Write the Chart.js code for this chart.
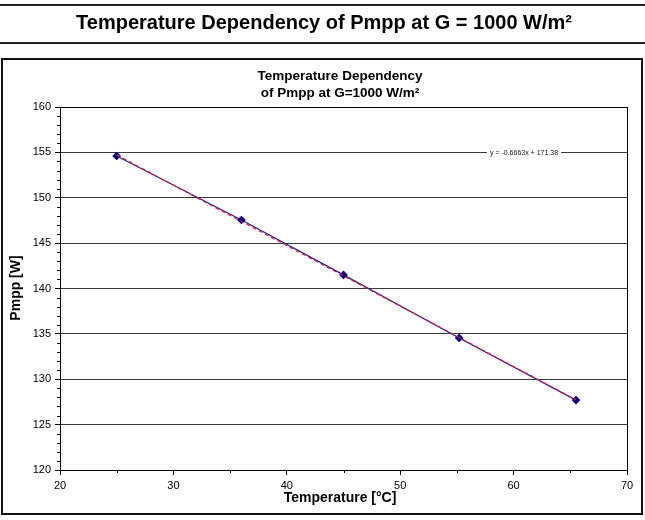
<!DOCTYPE html>
<html>
<head>
<meta charset="utf-8">
<script src="https://cdn.jsdelivr.net/npm/chart.js@4"></script>
<style>
html,body{margin:0;padding:0;background:#fff;}
#wrap{position:relative;width:645px;height:520px;}
</style>
</head>
<body>
<div id="wrap"><canvas id="c" width="645" height="520"></canvas></div>
<script>
// ---- data ----
const temperatures = [25, 36, 45, 55.2, 65.5];
const pmppValues = [154.6, 147.55, 141.5, 134.55, 127.7];
const trendX = [25, 65.5];
const trendY = [154.72, 127.74];
const equationText = "y = -0.6663x + 171.38";
const xTicks = [20, 30, 40, 50, 60, 70];
const yTicks = [120, 125, 130, 135, 140, 145, 150, 155, 160];
const headerTitle = "Temperature Dependency of Pmpp at G = 1000 W/m²";
const chartTitleLines = ["Temperature Dependency", "of Pmpp at G=1000 W/m²"];
const xTitle = "Temperature [°C]";
const yTitle = "Pmpp [W]";

const FONT = "'Liberation Sans', Arial, sans-serif";

const decor = {
  id: 'decor',
  beforeDraw(chart) {
    const ctx = chart.ctx;
    ctx.save();
    ctx.fillStyle = '#fff';
    ctx.fillRect(0, 0, chart.width, chart.height);
    // header lines
    ctx.strokeStyle = '#222';
    ctx.lineWidth = 2;
    ctx.beginPath();
    ctx.moveTo(0, 5); ctx.lineTo(645, 5);
    ctx.moveTo(0, 43); ctx.lineTo(645, 43);
    ctx.stroke();
    // header title
    ctx.fillStyle = '#000';
    ctx.font = "bold 20px " + FONT;
    ctx.textAlign = 'center';
    ctx.textBaseline = 'middle';
    ctx.fillText(headerTitle, 324, 23);
    // outer box
    ctx.lineWidth = 2;
    ctx.strokeStyle = '#111';
    ctx.strokeRect(2, 59, 640, 455);
    // chart title
    ctx.font = "bold 13.5px " + FONT;
    ctx.fillText(chartTitleLines[0], 340, 76);
    ctx.fillText(chartTitleLines[1], 340, 93);
    // axis titles
    ctx.font = "bold 14px " + FONT;
    ctx.fillText(xTitle, 340, 498);
    ctx.save();
    ctx.translate(16, 288);
    ctx.rotate(-Math.PI / 2);
    ctx.fillText(yTitle, 0, 0);
    ctx.restore();
    ctx.restore();
  },
  afterDatasetsDraw(chart) {
    const ctx = chart.ctx;
    const a = chart.chartArea;
    const xs = chart.scales.x, ys = chart.scales.y;
    ctx.save();
    // plot border
    ctx.strokeStyle = '#000';
    ctx.lineWidth = 1;
    ctx.strokeRect(Math.round(a.left) + 0.5, Math.round(a.top) + 0.5, Math.round(a.right - a.left), Math.round(a.bottom - a.top));
    // minor ticks
    ctx.beginPath();
    for (let v = ys.min + 1; v < ys.max; v++) {
      if (v % 5 === 0) continue;
      const py = Math.round(ys.getPixelForValue(v)) + 0.5;
      ctx.moveTo(a.left - 3, py); ctx.lineTo(a.left, py);
    }
    for (let v = xs.min + 5; v < xs.max; v += 10) {
      const px = Math.round(xs.getPixelForValue(v)) + 0.5;
      ctx.moveTo(px, a.bottom); ctx.lineTo(px, a.bottom + 3);
    }
    ctx.stroke();
    // equation label
    ctx.font = "7px " + FONT;
    ctx.textAlign = 'center';
    ctx.textBaseline = 'middle';
    const ey = ys.getPixelForValue(155);
    const w = ctx.measureText(equationText).width;
    ctx.fillStyle = '#fff';
    ctx.fillRect(524 - w / 2 - 3, ey - 4, w + 6, 8);
    ctx.fillStyle = '#111';
    ctx.fillText(equationText, 524, ey + 0.5);
    ctx.restore();
  }
};

new Chart(document.getElementById('c'), {
  type: 'scatter',
  data: {
    datasets: [
      {
        label: 'Pmpp',
        data: temperatures.map((x, i) => ({x, y: pmppValues[i]})),
        showLine: true,
        borderColor: '#1c1c9c',
        borderWidth: 1.2,
        pointStyle: 'rectRot',
        pointRadius: 3.5,
        pointBackgroundColor: '#000080',
        pointBorderColor: '#000080',
        order: 2
      },
      {
        label: 'trend',
        data: trendX.map((x, i) => ({x, y: trendY[i]})),
        showLine: true,
        borderColor: '#ee1b30',
        borderWidth: 1.2,
        borderDash: [4, 3],
        pointRadius: 0,
        order: 1
      }
    ]
  },
  options: {
    responsive: false,
    animation: false,
    devicePixelRatio: 1,
    layout: { padding: { left: 0, top: 107, right: 18, bottom: 0 } },
    plugins: { legend: { display: false }, tooltip: { enabled: false }, title: { display: false } },
    scales: {
      x: {
        type: 'linear',
        min: 20, max: 70,
        afterBuildTicks: s => { s.ticks = xTicks.map(v => ({value: v})); },
        afterFit: s => { s.height = 50; },
        ticks: { color: '#000', font: { family: FONT, size: 11 }, padding: 4, maxRotation: 0 },
        grid: { drawOnChartArea: false, color: '#000', tickLength: 5, tickColor: '#000' },
        border: { color: '#000', width: 1 }
      },
      y: {
        type: 'linear',
        min: 120, max: 160,
        afterBuildTicks: s => { s.ticks = yTicks.map(v => ({value: v})); },
        afterFit: s => { s.width = 60; },
        ticks: { color: '#000', font: { family: FONT, size: 11 }, padding: 4 },
        grid: { color: '#3a3a3a', tickLength: 5, tickColor: '#000' },
        border: { color: '#000', width: 1 }
      }
    }
  },
  plugins: [decor]
});
</script>
</body>
</html>
